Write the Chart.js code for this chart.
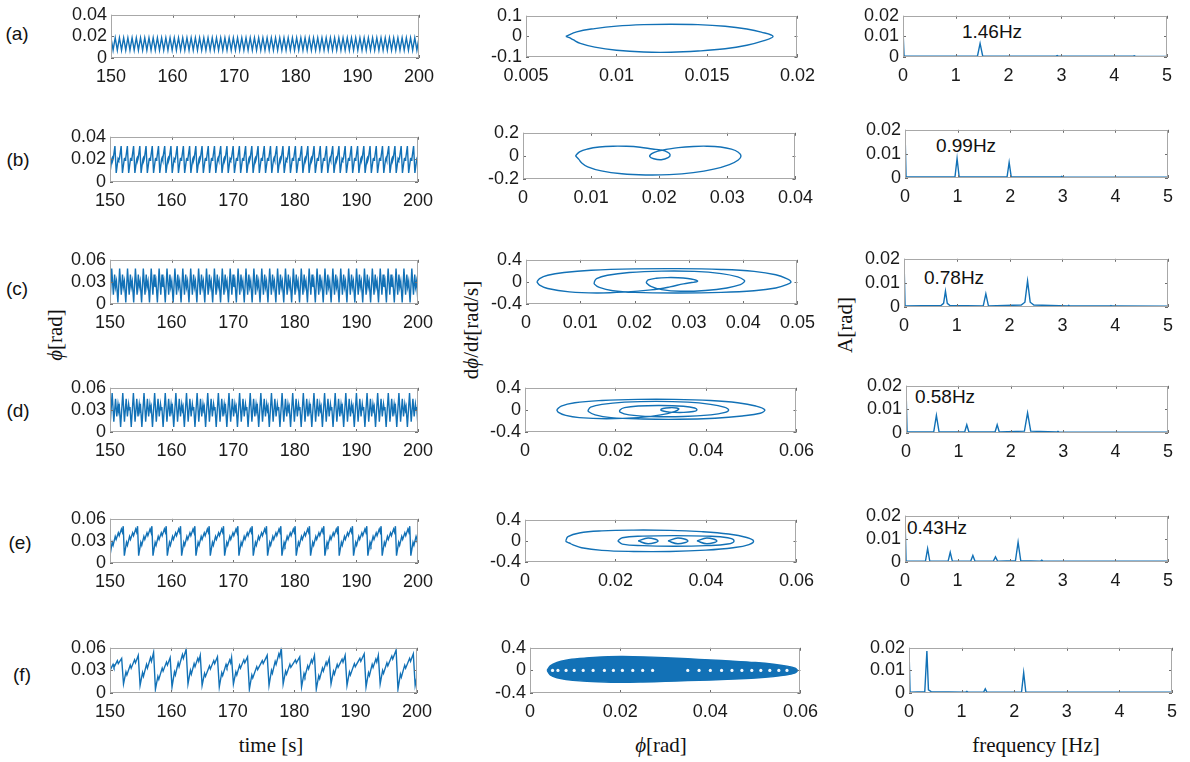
<!DOCTYPE html>
<html>
<head>
<meta charset="utf-8">
<title>phi: time series, phase portraits, spectra</title>
<script src="https://cdn.jsdelivr.net/npm/chart.js@4.4.1/dist/chart.umd.min.js"></script>
<style>
  html, body { margin: 0; background: #fff; }
  #fig { position: relative; width: 1190px; height: 762px; overflow: hidden; }
  #fig canvas { position: absolute; }
  .txt { position: absolute; white-space: nowrap; color: #111; line-height: 1; transform: translate(-50%, -50%); }
  .sans { font-family: 'Liberation Sans Narrow', 'Liberation Sans', Arial, sans-serif; font-size: 21px; }
  .serif { font-family: 'Liberation Serif', 'Times New Roman', serif; font-size: 21px; }
  .rot { transform: translate(-50%, -50%) rotate(-90deg); }
</style>
</head>
<body>
<div id="fig">
  <div class="txt sans" style="left:17px;top:33px">(a)</div>
  <div class="txt sans" style="left:18px;top:159px">(b)</div>
  <div class="txt sans" style="left:17px;top:288px">(c)</div>
  <div class="txt sans" style="left:18px;top:410px">(d)</div>
  <div class="txt sans" style="left:20px;top:542px">(e)</div>
  <div class="txt sans" style="left:22px;top:674px">(f)</div>

  <div class="txt sans" style="left:992px;top:31px">1.46Hz</div>
  <div class="txt sans" style="left:966px;top:145px">0.99Hz</div>
  <div class="txt sans" style="left:954px;top:277px">0.78Hz</div>
  <div class="txt sans" style="left:945px;top:396px">0.58Hz</div>
  <div class="txt sans" style="left:937px;top:527px">0.43Hz</div>

  <div class="txt serif rot" style="left:55px;top:335px"><i>ϕ</i>[rad]</div>
  <div class="txt serif rot" style="left:471px;top:330px">d<i>ϕ</i>/d<i>t</i>[rad/s]</div>
  <div class="txt serif rot" style="left:845px;top:325px">A[rad]</div>
  <div class="txt serif" style="left:271px;top:745px">time [s]</div>
  <div class="txt serif" style="left:661px;top:745px"><i>ϕ</i>[rad]</div>
  <div class="txt serif" style="left:1036px;top:745px">frequency [Hz]</div>
</div>
<script>
// ---------- data ----------

// time window of the left column
const tStart = 150, tEnd = 200;

// rows (a)-(e) are periodic: one period of each trace [s offset, phi rad];
// the period comes from the peak label in the spectrum
const aFreq = 1.46;
const aCycle = [[0, 0.0187], [0.17, 0.0130], [0.34, 0.0072], [0.51, 0.0130]];
const bFreq = 0.99;
const bCycle = [[0, 0.008], [0.30, 0.0205], [0.37, 0.0215], [0.45, 0.0192], [0.52, 0.0205], [0.80, 0.0318]];
const cFreq = 0.78;
const cCycle = [[0, 0.002], [0.28, 0.048], [0.55, 0.0125], [0.75, 0.040], [0.89, 0.023], [1.05, 0.031]];
const dFreq = 0.58;
const dCycle = [[0, 0.007], [0.35, 0.053], [0.62, 0.014], [0.90, 0.045], [1.10, 0.021], [1.30, 0.038], [1.42, 0.030], [1.52, 0.034]];
const eFreq = 0.43;
const eCycle = [[0, 0.010], [0.35, 0.028], [0.50, 0.024], [0.85, 0.036], [1.00, 0.032], [1.35, 0.041], [1.50, 0.037], [1.85, 0.046], [2.00, 0.042], [2.15, 0.050]];

// row (f) is not periodic: turning points [s, rad]
const fSeries = [
  [150.0, .030], [150.5, .038], [150.65, .034], [151.2, .043], [151.35, .039], [151.9, .046],
  [152.2, .012], [152.6, .028], [152.75, .024], [153.3, .037], [153.45, .033], [154.0, .044], [154.15, .040], [154.6, .050],
  [154.9, .010], [155.3, .027], [155.45, .022], [155.95, .038], [156.1, .033], [156.6, .047], [156.75, .042], [157.1, .054],
  [157.4, .005], [157.8, .022], [157.95, .018], [158.5, .033], [158.65, .029], [159.2, .041], [159.35, .037], [159.8, .047],
  [160.1, .008], [160.5, .028], [160.65, .024], [161.1, .040], [161.25, .035], [161.8, .051], [161.95, .046], [162.4, .058],
  [162.7, .012], [163.1, .030], [163.25, .025], [163.7, .039], [163.85, .035], [164.3, .046], [164.45, .042], [164.7, .050],
  [165.0, .010], [165.4, .026], [165.55, .022], [166.2, .036], [166.35, .032], [166.9, .043], [167.05, .039], [167.5, .048],
  [167.8, .008], [168.2, .027], [168.35, .023], [168.9, .038], [169.05, .034], [169.5, .044], [169.65, .040], [169.8, .047],
  [170.1, .012], [170.5, .028], [170.65, .024], [171.1, .037], [171.25, .033], [171.8, .044], [171.95, .040], [172.4, .048],
  [172.7, .005], [173.1, .024], [173.25, .020], [173.9, .035], [174.05, .031], [174.8, .043], [174.95, .039], [175.6, .050],
  [175.9, .010], [176.3, .030], [176.45, .026], [176.9, .042], [177.05, .038], [177.5, .052], [177.65, .048], [177.9, .060],
  [178.2, .012], [178.6, .029], [178.75, .025], [179.3, .038], [179.45, .034], [180.2, .044], [180.35, .040], [180.9, .048],
  [181.2, .008], [181.6, .026], [181.75, .022], [182.2, .036], [182.35, .032], [182.8, .044], [182.95, .040], [183.3, .050],
  [183.6, .005], [184.0, .023], [184.15, .019], [184.6, .033], [184.75, .029], [185.2, .041], [185.35, .037], [185.7, .046],
  [186.0, .012], [186.4, .029], [186.55, .025], [187.0, .038], [187.15, .034], [187.8, .045], [187.95, .041], [188.3, .050],
  [188.6, .010], [189.0, .028], [189.15, .024], [189.8, .039], [189.95, .035], [190.7, .046], [190.85, .042], [191.4, .052],
  [191.7, .008], [192.1, .027], [192.25, .023], [192.7, .038], [192.85, .034], [193.3, .045], [193.45, .041], [193.7, .050],
  [194.0, .012], [194.4, .030], [194.55, .026], [195.1, .040], [195.25, .036], [195.9, .049], [196.05, .045], [196.6, .057],
  [196.9, .005], [197.3, .025], [197.45, .021], [198.0, .037], [198.15, .033], [198.8, .046], [198.95, .042], [199.4, .052],
  [199.7, .010], [200.0, .022]
];

// phase portraits [phi, dphi/dt]
const aPhase = [[0.0072, 0], [0.0078, 0.022], [0.0088, 0.038], [0.0100, 0.050], [0.0115, 0.057], [0.0130, 0.059], [0.0145, 0.057],
  [0.0160, 0.049], [0.0172, 0.036], [0.0180, 0.021], [0.01865, 0], [0.0181, -0.022], [0.0172, -0.043], [0.0160, -0.060],
  [0.0145, -0.071], [0.0130, -0.077], [0.0115, -0.076], [0.0100, -0.067], [0.0088, -0.052], [0.0080, -0.034], [0.0076, -0.016],
  [0.0074, -0.006], [0.0072, 0]];
const bPhase = [[0.0077, 0], [0.0083, 0.035], [0.0095, 0.060], [0.0112, 0.077], [0.0132, 0.084], [0.0152, 0.083], [0.0172, 0.075],
  [0.0190, 0.060], [0.0203, 0.050], [0.0212, 0.033], [0.0216, 0.010], [0.0213, -0.015], [0.0203, -0.033], [0.0192, -0.025],
  [0.0186, -0.005], [0.0189, 0.020], [0.0198, 0.042], [0.0210, 0.055], [0.0228, 0.072], [0.0250, 0.082], [0.0270, 0.084],
  [0.0290, 0.077], [0.0306, 0.058], [0.0316, 0.032], [0.0320, 0], [0.0316, -0.035], [0.0303, -0.075], [0.0280, -0.115],
  [0.0250, -0.145], [0.0215, -0.162], [0.0180, -0.165], [0.0145, -0.155], [0.0115, -0.130], [0.0095, -0.095], [0.0086, -0.060],
  [0.0082, -0.030], [0.0079, -0.012], [0.0077, 0]];
const cPhase = [[0.0020, 0], [0.0025, 0.06], [0.0040, 0.12], [0.0070, 0.17], [0.0120, 0.21], [0.0200, 0.235], [0.0280, 0.24],
  [0.0360, 0.225], [0.0420, 0.19], [0.0460, 0.13], [0.0480, 0.06], [0.0488, 0],
  [0.0480, -0.05], [0.0460, -0.11], [0.0420, -0.16], [0.0360, -0.19], [0.0280, -0.20], [0.0200, -0.19], [0.0160, -0.16],
  [0.0135, -0.10], [0.0126, -0.04], [0.0126, 0],
  [0.0130, 0.06], [0.0150, 0.12], [0.0190, 0.17], [0.0250, 0.195], [0.0310, 0.19], [0.0360, 0.15], [0.0390, 0.09], [0.0402, 0.03], [0.0402, 0],
  [0.0395, -0.05], [0.0370, -0.11], [0.0330, -0.155], [0.0285, -0.17], [0.0250, -0.14], [0.0230, -0.08], [0.0222, -0.02], [0.0222, 0],
  [0.0225, 0.035], [0.0240, 0.065], [0.0260, 0.078], [0.0280, 0.076], [0.0298, 0.062], [0.0310, 0.040], [0.0316, 0.018],
  [0.0314, 0.002], [0.0305, -0.012], [0.0290, -0.035], [0.0265, -0.09], [0.0230, -0.145], [0.0180, -0.185], [0.0130, -0.20],
  [0.0080, -0.18], [0.0040, -0.12], [0.0025, -0.06], [0.0020, 0]];
const dPhase = [[0.007, 0], [0.008, 0.07], [0.011, 0.13], [0.017, 0.17], [0.025, 0.19], [0.033, 0.19], [0.041, 0.17], [0.047, 0.13], [0.051, 0.07], [0.053, 0],
  [0.052, -0.06], [0.048, -0.11], [0.042, -0.15], [0.034, -0.17], [0.026, -0.165], [0.019, -0.14], [0.0155, -0.09], [0.014, -0.03], [0.014, 0],
  [0.0145, 0.05], [0.017, 0.10], [0.022, 0.14], [0.029, 0.155], [0.036, 0.14], [0.041, 0.10], [0.044, 0.05], [0.045, 0],
  [0.044, -0.05], [0.041, -0.09], [0.035, -0.12], [0.028, -0.12], [0.023, -0.09], [0.021, -0.04], [0.021, 0],
  [0.022, 0.04], [0.025, 0.07], [0.030, 0.08], [0.035, 0.065], [0.0375, 0.035], [0.038, 0],
  [0.0372, -0.03], [0.035, -0.045], [0.032, -0.04], [0.0305, -0.02], [0.030, 0],
  [0.0305, 0.025], [0.032, 0.04], [0.0335, 0.035], [0.034, 0.015],
  [0.033, -0.03], [0.030, -0.09], [0.025, -0.14], [0.018, -0.16], [0.012, -0.14], [0.009, -0.10], [0.0075, -0.05], [0.007, 0]];
const ePhase = [[0.0090, 0], [0.0095, 0.08], [0.0120, 0.15], [0.0170, 0.19], [0.0240, 0.205], [0.0320, 0.20], [0.0390, 0.175],
  [0.0450, 0.13], [0.0490, 0.065], [0.0505, 0], [0.0495, -0.07], [0.0460, -0.13], [0.0400, -0.175], [0.0320, -0.20],
  [0.0240, -0.20], [0.0170, -0.18], [0.0125, -0.13], [0.0105, -0.07], [0.0098, -0.04], [0.0092, -0.02], [0.0090, 0]];
const eInner = [[0.0205, 0], [0.0215, 0.06], [0.0260, 0.09], [0.0330, 0.10], [0.0400, 0.09], [0.0448, 0.06], [0.0462, 0],
  [0.0448, -0.06], [0.0400, -0.09], [0.0330, -0.10], [0.0260, -0.09], [0.0215, -0.06], [0.0205, 0]];
const eRings = [0.0272, 0.0338, 0.0402];
// (f): filled band, upper and lower edge, plus the light gaps along zero
const fUpper = [[0.0038, 0], [0.0045, 0.08], [0.006, 0.14], [0.008, 0.18], [0.011, 0.21], [0.015, 0.235], [0.020, 0.245],
  [0.025, 0.24], [0.030, 0.225], [0.035, 0.205], [0.040, 0.185], [0.045, 0.165], [0.050, 0.14], [0.054, 0.11], [0.057, 0.075],
  [0.0588, 0.04], [0.0594, 0]];
const fLower = [[0.0038, 0], [0.0045, -0.08], [0.006, -0.13], [0.008, -0.16], [0.011, -0.185], [0.015, -0.20], [0.020, -0.21],
  [0.025, -0.205], [0.030, -0.195], [0.035, -0.18], [0.040, -0.17], [0.045, -0.155], [0.050, -0.135], [0.054, -0.11],
  [0.057, -0.08], [0.0588, -0.045], [0.0594, 0]];
const fGaps = [0.0050, 0.0062, 0.0080, 0.0098, 0.0118, 0.0140, 0.0165, 0.0185, 0.0205, 0.0228, 0.0250, 0.0272,
  0.0350, 0.0375, 0.0400, 0.0425, 0.0448, 0.0470, 0.0492, 0.0512, 0.0532, 0.0552, 0.0570];

// spectra [Hz, rad]
const aSpec = [[0, 0.0133], [0.02, 0.0004], [1.41, 0.0004], [1.46, 0.0066], [1.51, 0.0004], [2.90, 0.0004], [2.92, 0.0007],
  [2.94, 0.0004], [4.36, 0.0004], [4.38, 0.0006], [4.40, 0.0004], [5, 0.0003]];
const bSpec = [[0, 0.020], [0.02, 0.0004], [0.95, 0.0004], [0.99, 0.0081], [1.03, 0.0004], [1.94, 0.0004], [1.98, 0.0065],
  [2.02, 0.0004], [2.96, 0.0004], [2.98, 0.0007], [3.00, 0.0004], [5, 0.0003]];
const cSpec = [[0, 0.020], [0.02, 0.0004], [0.70, 0.0006], [0.75, 0.0015], [0.785, 0.0066], [0.82, 0.0015], [0.87, 0.0006],
  [1.50, 0.0004], [1.55, 0.0055], [1.60, 0.0004], [2.22, 0.0008], [2.29, 0.0020], [2.34, 0.0108], [2.39, 0.0020],
  [2.46, 0.0008], [3.10, 0.0004], [3.12, 0.0007], [3.14, 0.0004], [3.90, 0.0004], [3.92, 0.0006], [3.94, 0.0004], [5, 0.0003]];
const dSpec = [[0, 0.020], [0.02, 0.0004], [0.53, 0.0006], [0.58, 0.0075], [0.63, 0.0006], [1.12, 0.0004], [1.16, 0.0035],
  [1.20, 0.0004], [1.70, 0.0004], [1.74, 0.0035], [1.78, 0.0004], [2.26, 0.0008], [2.32, 0.0085], [2.38, 0.0008],
  [2.88, 0.0004], [2.90, 0.0007], [2.92, 0.0004], [5, 0.0003]];
const eSpec = [[0, 0.020], [0.02, 0.0004], [0.39, 0.0005], [0.43, 0.0058], [0.47, 0.0005], [0.82, 0.0004], [0.86, 0.0042],
  [0.90, 0.0004], [1.25, 0.0004], [1.29, 0.0028], [1.33, 0.0004], [1.68, 0.0004], [1.72, 0.0022], [1.76, 0.0004],
  [2.10, 0.0006], [2.15, 0.0086], [2.20, 0.0006], [2.58, 0.0004], [2.60, 0.0008], [2.62, 0.0004], [5, 0.0003]];
const fSpec = [[0, 0.020], [0.02, 0.0004], [0.30, 0.0006], [0.34, 0.0186], [0.37, 0.0014], [0.42, 0.0006], [1.08, 0.0004],
  [1.10, 0.0007], [1.12, 0.0004], [1.42, 0.0004], [1.45, 0.0018], [1.48, 0.0004], [2.14, 0.0005], [2.18, 0.0090],
  [2.22, 0.0005], [5, 0.0003]];

// ---------- drawing ----------
const BLUE = '#1271b6';
const fig = document.getElementById('fig');

// use the narrow face when it is installed
const probe = document.createElement('canvas').getContext('2d');
probe.font = '20px "Liberation Sans Narrow", monospace';
const wNarrow = probe.measureText('0123456789').width;
probe.font = '20px monospace';
const hasNarrow = wNarrow !== probe.measureText('0123456789').width;
const TICK_FAMILY = hasNarrow ? "'Liberation Sans Narrow'" : "'Liberation Sans', Arial, sans-serif";
const TICK_SIZE = hasNarrow ? 20 : 18;
if (!hasNarrow) document.querySelectorAll('.sans').forEach(el => { el.style.fontSize = '19px'; });

const pts = list => list.map(([x, y]) => ({ x, y }));
function periodic(freq, cycle) {
  const per = 1 / freq, out = [];
  for (let k = 0; tStart + k * per < tEnd + per; k++) {
    cycle.forEach(([t, v]) => out.push({ x: tStart + k * per + t, y: v }));
  }
  return out;
}
const line = (data, extra) => Object.assign({ data, borderColor: BLUE, borderWidth: 1.4, pointRadius: 0, tension: 0, fill: false }, extra || {});
const curve = data => line(data, { tension: 0.4 });

// inward tick marks and a full box, MATLAB style
const frame = {
  id: 'frame',
  afterDatasetsDraw(chart) {
    const { ctx, chartArea: a, scales: { x, y } } = chart;
    ctx.save();
    ctx.lineWidth = 1;
    ctx.strokeStyle = '#6e6e6e';
    ctx.beginPath();
    x.ticks.forEach(t => {
      const px = Math.round(x.getPixelForValue(t.value)) + 0.5;
      ctx.moveTo(px, a.bottom); ctx.lineTo(px, a.bottom - 3);
      ctx.moveTo(px, a.top); ctx.lineTo(px, a.top + 3);
    });
    y.ticks.forEach(t => {
      const py = Math.round(y.getPixelForValue(t.value)) + 0.5;
      ctx.moveTo(a.left, py); ctx.lineTo(a.left + 3, py);
      ctx.moveTo(a.right, py); ctx.lineTo(a.right - 3, py);
    });
    ctx.stroke();
    ctx.strokeStyle = '#a8a8a8';
    ctx.strokeRect(Math.round(a.left) + 0.5, Math.round(a.top) + 0.5, Math.round(a.width) - 1, Math.round(a.height) - 1);
    ctx.restore();
  }
};

const YW = 60, XH = 36, PT = 12, PR = 24;
function axis([min, max, step], dir) {
  return {
    type: 'linear', min, max,
    grid: { display: false, drawTicks: false },
    border: { display: false },
    ticks: {
      stepSize: step, autoSkip: false, maxRotation: 0, minRotation: 0,
      padding: dir === 'x' ? 8 : 4, color: '#1a1a1a',
      font: { family: TICK_FAMILY, size: TICK_SIZE },
      callback: v => String(+v.toFixed(4))
    },
    afterFit: s => { if (dir === 'x') s.height = XH; else s.width = YW; }
  };
}

function panel([left, top, w, h], xr, yr, datasets) {
  const cv = document.createElement('canvas');
  const W = w + YW + PR, H = h + PT + XH;
  cv.width = W; cv.height = H;
  cv.style.left = (left - YW) + 'px';
  cv.style.top = (top - PT) + 'px';
  cv.style.width = W + 'px';
  cv.style.height = H + 'px';
  fig.appendChild(cv);
  new Chart(cv, {
    type: 'line',
    data: { datasets },
    options: {
      responsive: false, animation: false, events: [],
      layout: { padding: { top: PT, right: PR, left: 0, bottom: 0 } },
      plugins: { legend: { display: false }, tooltip: { enabled: false } },
      scales: { x: axis(xr, 'x'), y: axis(yr, 'y') }
    },
    plugins: [frame]
  });
}

const T_AX = [tStart, tEnd, 10];
const F_AX = [0, 5, 1];
const A_AX = [0, 0.02, 0.01];

// left column: time series
panel([111, 12, 308, 46], T_AX, [0, 0.04, 0.02], [line(periodic(aFreq, aCycle))]);
panel([110, 134, 308, 48], T_AX, [0, 0.04, 0.02], [line(periodic(bFreq, bCycle))]);
panel([110, 257, 308, 47], T_AX, [0, 0.06, 0.03], [line(periodic(cFreq, cCycle))]);
panel([110, 385, 308, 47], T_AX, [0, 0.06, 0.03], [line(periodic(dFreq, dCycle))]);
panel([110, 516, 308, 47], T_AX, [0, 0.06, 0.03], [line(periodic(eFreq, eCycle))]);
panel([110, 645, 307, 48], T_AX, [0, 0.06, 0.03], [line(pts(fSeries))]);

// middle column: phase portraits
panel([526, 13, 273, 44], [0.005, 0.02, 0.005], [-0.1, 0.1, 0.1], [curve(pts(aPhase))]);
panel([523, 130, 274, 49], [0, 0.04, 0.01], [-0.2, 0.2, 0.2], [curve(pts(bPhase))]);
panel([526, 257, 273, 47], [0, 0.05, 0.01], [-0.4, 0.4, 0.4], [curve(pts(cPhase))]);
panel([525, 385, 273, 47], [0, 0.06, 0.02], [-0.4, 0.4, 0.4], [curve(pts(dPhase))]);
panel([525, 517, 273, 45], [0, 0.06, 0.02], [-0.4, 0.4, 0.4], [
  curve(pts(ePhase)), curve(pts(eInner)),
  ...eRings.map(c => curve(pts([[c - 0.0022, 0], [c, 0.055], [c + 0.0022, 0], [c, -0.055], [c - 0.0022, 0]])))
]);
panel([530, 645, 272, 48], [0, 0.06, 0.02], [-0.4, 0.4, 0.4], [
  line(fGaps.map(x => ({ x, y: 0 })), {
    showLine: false, pointRadius: 1.6, pointStyle: 'circle',
    pointBackgroundColor: '#f4f8fc', pointBorderWidth: 0, order: -1
  }),
  line(pts(fUpper), { fill: '+1', backgroundColor: BLUE, tension: 0.3 }),
  line(pts(fLower), { tension: 0.3 })
]);

// right column: spectra
panel([903, 13, 264, 44], F_AX, A_AX, [line(pts(aSpec))]);
panel([905, 127, 263, 51], F_AX, A_AX, [line(pts(bSpec))]);
panel([904, 256, 264, 51], F_AX, A_AX, [line(pts(cSpec))]);
panel([906, 383, 262, 50], F_AX, A_AX, [line(pts(dSpec))]);
panel([905, 513, 263, 49], F_AX, A_AX, [line(pts(eSpec))]);
panel([909, 645, 263, 48], F_AX, A_AX, [line(pts(fSpec))]);
</script>
</body>
</html>
